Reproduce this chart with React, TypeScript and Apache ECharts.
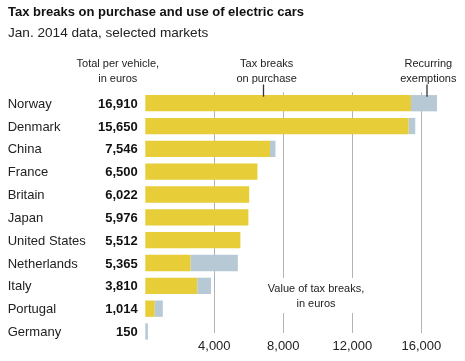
import React, { useEffect, useRef } from "react";
import * as echarts from "echarts";

const countries = ["Norway", "Denmark", "China", "France", "Britain", "Japan", "United States", "Netherlands", "Italy", "Portugal", "Germany"];
const totals = [16910, 15650, 7546, 6500, 6022, 5976, 5512, 5365, 3810, 1014, 150];
const purchase = [15400, 15270, 7230, 6500, 6022, 5976, 5512, 2630, 3010, 545, 0];
const recurring = [1510, 380, 316, 0, 0, 0, 0, 2735, 800, 469, 150];
const xTicks = [0, 4000, 8000, 12000, 16000];

const FONT = "Liberation Sans, Arial, sans-serif";
const YELLOW = "#e7cd37";
const GREY = "#b7c9d4";
const TEXT = "#222222";

const fmt = (v: number) => v.toLocaleString("en-US");

export default function App() {
  const ref = useRef<HTMLDivElement>(null);
  useEffect(() => {
    if (!ref.current) return;
    const chart = echarts.init(ref.current, null, { renderer: "svg" });
    const left = 145.3;
    const width = 310.5;
    chart.setOption({
      animation: false,
      textStyle: { fontFamily: FONT },
      grid: [
        { left, width, top: 91.8, height: 251.1, containLabel: false },
        { left, width, top: 92.3, height: 240.7, containLabel: false },
      ],
      xAxis: [
        { gridIndex: 0, type: "value", min: 0, max: 18000, show: false },
        {
          gridIndex: 1,
          type: "value",
          min: xTicks[0],
          max: 18000,
          interval: 4000,
          axisLine: { show: false },
          axisTick: { show: false },
          splitLine: { show: true, showMinLine: false, showMaxLine: false, lineStyle: { color: "#b3b3b3", width: 1 } },
          axisLabel: {
            showMinLabel: false,
            showMaxLabel: false,
            margin: 6,
            color: TEXT,
            fontSize: 13,
            fontFamily: FONT,
            formatter: (v: number) => (xTicks.includes(v) ? fmt(v) : ""),
          },
        },
      ],
      yAxis: [
        {
          gridIndex: 0,
          type: "category",
          inverse: true,
          data: countries,
          axisLine: { show: false },
          axisTick: { show: false },
          axisLabel: {
            margin: 7.6,
            formatter: (v: string, i: number) => `{n|${v}}{v|${fmt(totals[i])}}`,
            rich: {
              n: { width: 88, align: "left", fontSize: 13, color: TEXT, fontFamily: FONT },
              v: { width: 42, align: "right", fontSize: 13, fontWeight: "bold", color: "#111", fontFamily: FONT },
            },
          },
        },
        { gridIndex: 1, type: "value", show: false },
      ],
      series: [
        {
          type: "bar",
          name: "Tax breaks on purchase",
          stack: "t",
          xAxisIndex: 0,
          yAxisIndex: 0,
          data: purchase,
          barWidth: 16.3,
          itemStyle: { color: YELLOW },
        },
        {
          type: "bar",
          name: "Recurring exemptions",
          stack: "t",
          xAxisIndex: 0,
          yAxisIndex: 0,
          data: recurring,
          barWidth: 16.3,
          itemStyle: { color: GREY },
        },
      ],
      graphic: [
        {
          type: "text",
          left: 8,
          top: 5,
          style: { text: "Tax breaks on purchase and use of electric cars", font: `bold 13px ${FONT}`, fill: "#111" },
        },
        {
          type: "text",
          left: 8,
          top: 25,
          style: { text: "Jan. 2014 data, selected markets", font: `13.6px ${FONT}`, fill: TEXT },
        },
        {
          type: "text",
          x: 117.8,
          y: 56,
          style: { text: "Total per vehicle,\nin euros", font: `11px ${FONT}`, fill: TEXT, align: "center", lineHeight: 14.5 },
        },
        {
          type: "text",
          x: 266.7,
          y: 56,
          style: { text: "Tax breaks\non purchase", font: `11px ${FONT}`, fill: TEXT, align: "center", lineHeight: 14.5 },
        },
        {
          type: "text",
          x: 428.3,
          y: 56,
          style: { text: "Recurring\nexemptions", font: `11px ${FONT}`, fill: TEXT, align: "center", lineHeight: 14.5 },
        },
        {
          type: "line",
          z: 10,
          shape: { x1: 263.5, y1: 84.5, x2: 263.5, y2: 96.7 },
          style: { stroke: "#333", lineWidth: 1.3 },
        },
        {
          type: "line",
          z: 10,
          shape: { x1: 427, y1: 84.5, x2: 427, y2: 96.7 },
          style: { stroke: "#333", lineWidth: 1.3 },
        },
        {
          type: "text",
          z: 10,
          x: 316,
          y: 278,
          style: {
            text: "Value of tax breaks,\nin euros",
            font: `11px ${FONT}`,
            fill: TEXT,
            align: "center",
            lineHeight: 14.5,
            backgroundColor: "#ffffff",
            padding: [3, 2, 3, 2],
          },
        },
      ],
    });
    return () => chart.dispose();
  }, []);
  return <div ref={ref} style={{ position: "fixed", left: 0, top: 0, width: 465, height: 361 }} />;
}
